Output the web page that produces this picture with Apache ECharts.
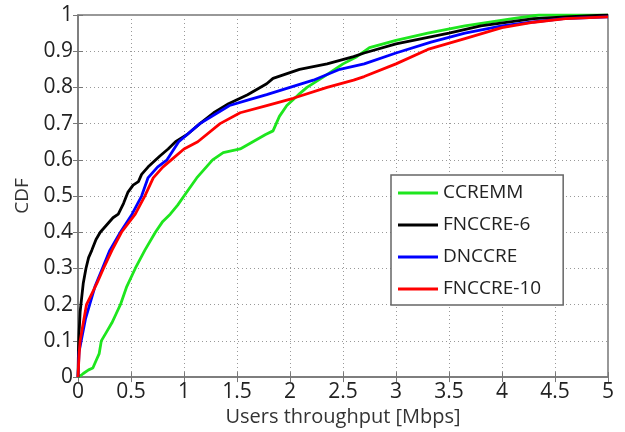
<!DOCTYPE html>
<html><head><meta charset="utf-8">
<script src="https://cdn.jsdelivr.net/npm/echarts@6/dist/echarts.min.js"></script>
<style>html,body{margin:0;padding:0;background:#fff}#c{width:625px;height:432px}</style>
</head><body><div id="c"></div>
<script>
const seriesNames = ['CCREMM','FNCCRE-6','DNCCRE','FNCCRE-10'];
const seriesColors = ['#1ee61e','#000000','#0000ff','#ff0000'];
const ccremm = [[0,0],[0.03,0.005],[0.05,0.01],[0.1,0.02],[0.14,0.025],[0.17,0.045],[0.2,0.065],[0.22,0.1],[0.27,0.125],[0.32,0.15],[0.36,0.175],[0.4,0.2],[0.46,0.25],[0.54,0.3],[0.63,0.35],[0.73,0.4],[0.8,0.43],[0.87,0.45],[0.94,0.475],[1.0,0.5],[1.12,0.55],[1.27,0.6],[1.37,0.62],[1.53,0.63],[1.65,0.65],[1.77,0.67],[1.84,0.68],[1.87,0.7],[1.9,0.72],[1.97,0.75],[2.08,0.78],[2.16,0.8],[2.32,0.83],[2.5,0.865],[2.63,0.885],[2.75,0.91],[3.0,0.93],[3.3,0.95],[3.65,0.97],[4.1,0.99],[4.35,1.0],[5,1]];
const fnccre6 = [[0,0],[0.005,0.08],[0.01,0.12],[0.02,0.18],[0.035,0.22],[0.05,0.26],[0.075,0.3],[0.1,0.33],[0.13,0.35],[0.17,0.38],[0.21,0.4],[0.27,0.42],[0.33,0.44],[0.38,0.45],[0.43,0.48],[0.47,0.51],[0.52,0.53],[0.57,0.54],[0.6,0.56],[0.66,0.58],[0.77,0.61],[0.85,0.63],[0.92,0.65],[1.03,0.67],[1.15,0.7],[1.28,0.73],[1.42,0.755],[1.6,0.78],[1.78,0.81],[1.84,0.825],[2.09,0.85],[2.35,0.865],[2.6,0.885],[2.7,0.895],[3.0,0.92],[3.5,0.95],[3.8,0.97],[4.3,0.99],[4.6,0.995],[5,1]];
const dnccre = [[0,0],[0.01,0.07],[0.03,0.1],[0.07,0.16],[0.11,0.2],[0.16,0.25],[0.23,0.3],[0.3,0.35],[0.4,0.4],[0.51,0.45],[0.6,0.5],[0.66,0.55],[0.75,0.58],[0.84,0.6],[0.95,0.65],[1.15,0.7],[1.43,0.75],[1.6,0.765],[1.78,0.78],[2.0,0.8],[2.22,0.82],[2.47,0.85],[2.7,0.865],[3.0,0.895],[3.33,0.925],[3.65,0.95],[4.0,0.97],[4.27,0.98],[4.58,0.99],[5,0.995]];
const fnccre10 = [[0,0],[0.01,0.06],[0.02,0.1],[0.05,0.15],[0.08,0.2],[0.13,0.23],[0.18,0.26],[0.24,0.3],[0.32,0.35],[0.41,0.4],[0.54,0.45],[0.63,0.5],[0.71,0.55],[0.8,0.58],[0.88,0.6],[1.0,0.63],[1.13,0.65],[1.34,0.7],[1.53,0.73],[1.78,0.75],[2.03,0.77],[2.35,0.8],[2.6,0.82],[2.7,0.83],[3.0,0.865],[3.3,0.905],[3.65,0.935],[4.0,0.965],[4.3,0.98],[4.6,0.99],[5,0.995]];
const allData = [ccremm, fnccre6, dnccre, fnccre10];

const chart = echarts.init(document.getElementById('c'));
const font = 'Open Sans';
const gridLine = {show:true, lineStyle:{color:'#999', type:[1,3], width:1}};
chart.setOption({
  animation:false,
  textStyle:{fontFamily:font},
  grid:{left:78, top:15, right:17, bottom:50, show:true, borderColor:'#777', borderWidth:1.5},
  legend:{
    orient:'vertical', left:391, top:175,
    padding:[7,22,5,7], itemGap:10, itemWidth:40, itemHeight:3,
    backgroundColor:'#fff', borderColor:'#666', borderWidth:1.5,
    icon:'rect',
    textStyle:{fontFamily:font, fontSize:19, color:'#222', lineHeight:22},
    data:seriesNames
  },
  xAxis:[{
    type:'value', min:0, max:5, interval:0.5,
    name:'Users throughput [Mbps]', nameLocation:'middle', nameGap:24,
    nameTextStyle:{fontSize:20, color:'#333'},
    axisLine:{show:true, lineStyle:{color:'#777', width:1.5}},
    axisTick:{show:true, inside:true, length:5, lineStyle:{color:'#777'}},
    axisLabel:{fontSize:21, color:'#222', margin:4},
    splitLine:gridLine
  },{
    type:'value', min:0, max:5, interval:0.5, position:'top',
    axisLine:{show:false}, axisTick:{show:true, inside:true, length:5, lineStyle:{color:'#777'}},
    axisLabel:{show:false}, splitLine:{show:false}
  }],
  yAxis:[{
    type:'value', min:0, max:1, interval:0.1,
    name:'CDF', nameLocation:'middle', nameGap:44, nameRotate:90,
    nameTextStyle:{fontSize:19, color:'#333'},
    axisLine:{show:true, lineStyle:{color:'#777', width:1.5}},
    axisTick:{show:true, inside:true, length:5, lineStyle:{color:'#777'}},
    axisLabel:{fontSize:21, color:'#222', margin:5, formatter:v=>String(Math.round(v*10)/10)},
    splitLine:gridLine
  },{
    type:'value', min:0, max:1, interval:0.1, position:'right',
    axisLine:{show:false}, axisTick:{show:true, inside:true, length:5, lineStyle:{color:'#777'}},
    axisLabel:{show:false}, splitLine:{show:false}
  }],
  series: seriesNames.map((n,i)=>({
    name:n, type:'line', data:allData[i], showSymbol:false, symbol:'none',
    xAxisIndex:0, yAxisIndex:0,
    color:seriesColors[i],
    lineStyle:{width:2.8, color:seriesColors[i]}
  }))
});
</script></body></html>
